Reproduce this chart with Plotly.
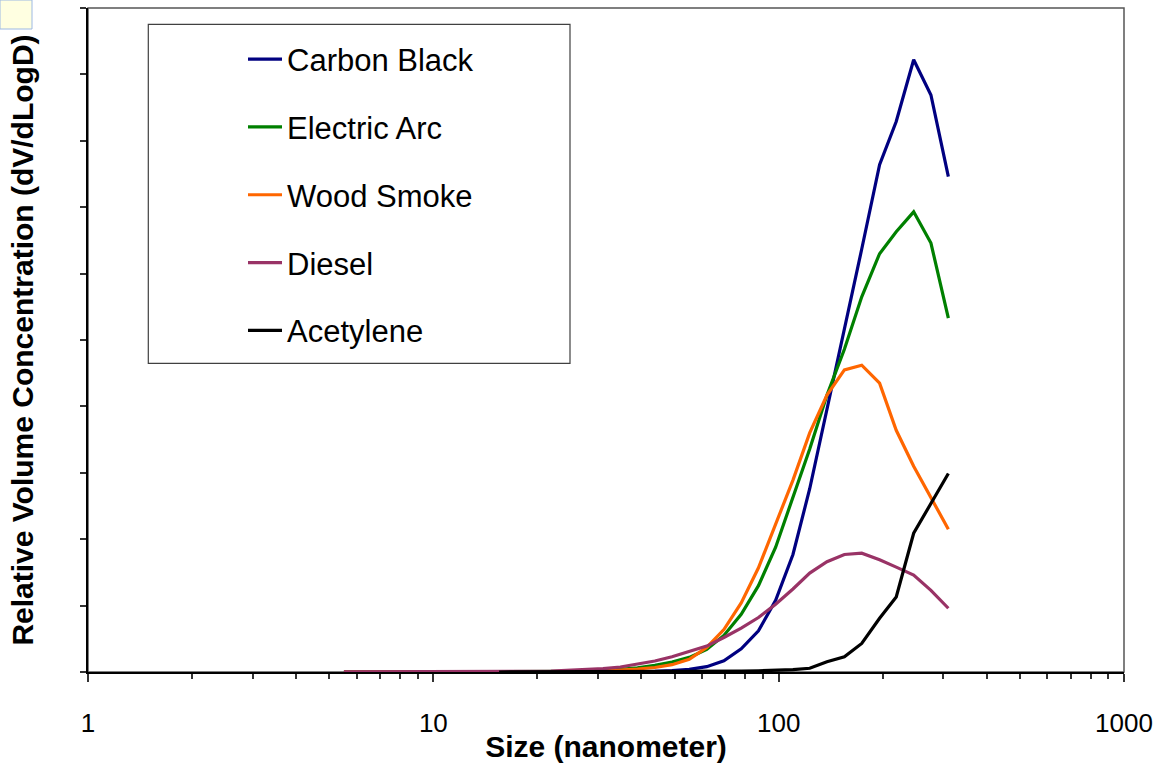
import plotly.graph_objects as go

# Particle size bins (nm)
SIZE_NM = [5.51, 6.19, 6.94, 7.79, 8.74, 9.80, 11.0, 12.3, 13.9, 15.5, 17.4, 19.6,
           21.9, 24.6, 27.6, 31.0, 34.8, 39.0, 43.8, 49.1, 55.1, 61.9, 69.4, 77.9,
           87.4, 98.0, 110, 123, 138, 155, 174, 196, 219, 246, 276, 310]

CARBON_BLACK = [0, 0, 0, 0, 0, 0, 0, 0, 0, 0, 0, 0,
                0, 0, 0, 0, 0, 0.005, 0.01, 0.02, 0.04, 0.08, 0.17, 0.35,
                0.62, 1.08, 1.77, 2.76, 3.95, 5.15, 6.37, 7.64, 8.29, 9.22, 8.69, 7.46]

ELECTRIC_ARC = [0, 0, 0, 0, 0, 0, 0, 0, 0, 0, 0, 0,
                0.005, 0.01, 0.015, 0.025, 0.04, 0.063, 0.10, 0.15, 0.22, 0.34, 0.55, 0.87,
                1.30, 1.88, 2.62, 3.36, 4.17, 4.86, 5.65, 6.30, 6.63, 6.93, 6.46, 5.33]

WOOD_SMOKE = [0, 0, 0, 0, 0, 0, 0, 0, 0, 0, 0, 0,
              0, 0.004, 0.008, 0.015, 0.027, 0.045, 0.068, 0.11, 0.19, 0.37, 0.64, 1.04,
              1.57, 2.22, 2.89, 3.60, 4.17, 4.55, 4.62, 4.35, 3.64, 3.10, 2.63, 2.15]

DIESEL = [0.002, 0.002, 0.002, 0.003, 0.003, 0.004, 0.004, 0.005, 0.006, 0.007, 0.008, 0.01,
          0.015, 0.025, 0.035, 0.05, 0.075, 0.116, 0.165, 0.23, 0.31, 0.39, 0.52, 0.66,
          0.82, 1.02, 1.25, 1.49, 1.66, 1.77, 1.79, 1.69, 1.58, 1.46, 1.23, 0.96]

ACETYLENE = [None, None, None, None, None, None, None, None, None, 0, 0, 0,
             0, 0, 0, 0, 0, 0, 0, 0, 0.003, 0.005, 0.008, 0.012,
             0.018, 0.025, 0.035, 0.056, 0.155, 0.23, 0.43, 0.81, 1.13, 2.09, 2.55, 2.99]

SERIES = [
    ("Carbon Black", CARBON_BLACK, "#000080"),
    ("Electric Arc", ELECTRIC_ARC, "#008000"),
    ("Wood Smoke", WOOD_SMOKE, "#FF6600"),
    ("Diesel", DIESEL, "#993366"),
    ("Acetylene", ACETYLENE, "#000000"),
]

X_TICKS = [1, 10, 100, 1000]
X_TICK_TEXT = ["1", "10", "100", "1000"]
X_MINOR = [m * d for d in (1, 10, 100) for m in range(2, 10)]

FONT = "Liberation Sans, Arial, sans-serif"

fig = go.Figure()
for name, vals, color in SERIES:
    fig.add_trace(go.Scatter(
        x=SIZE_NM, y=vals, name=name, mode="lines",
        line=dict(color=color, width=3.2),
        legendgroup=name,
    ))

W, H = 1162, 763
L, R, T, B = 88, 38, 8, 91
PW, PH = W - L - R, H - T - B


def px_x(p):
    return (p - L) / PW


def px_y(p):
    return (H - B - p) / PH


fig.update_layout(
    template="none",
    width=W, height=H,
    margin=dict(l=L, r=R, t=T, b=B, pad=0),
    paper_bgcolor="white", plot_bgcolor="white",
    font=dict(family=FONT, color="black"),
    showlegend=True,
    legend=dict(
        x=px_x(243), y=px_y(32.5), xanchor="left", yanchor="top",
        bgcolor="rgba(0,0,0,0)", borderwidth=0,
        font=dict(size=31, color="black", family=FONT),
        itemwidth=34, tracegroupgap=24.5, traceorder="grouped",
    ),
    xaxis=dict(
        type="log", range=[0, 3],
        tickmode="array", tickvals=X_TICKS, ticktext=X_TICK_TEXT,
        ticks="outside", ticklen=8, tickwidth=1.5, tickcolor="#333333",
        tickfont=dict(size=26, color="black"),
        ticklabelstandoff=19,
        minor=dict(tickmode="array", tickvals=X_MINOR, ticks="outside",
                   ticklen=5, tickwidth=1.5, tickcolor="#333333", showgrid=False),
        showline=True, linecolor="black", linewidth=2,
        showgrid=False, zeroline=False, layer="below traces",
        automargin=False,
        title=dict(text="<b>Size (nanometer)</b>", font=dict(size=30, color="black"),
                   standoff=1),
    ),
    yaxis=dict(
        range=[0, 10], tick0=0, dtick=1,
        ticks="outside", ticklen=6, tickwidth=1.5, tickcolor="#333333",
        showticklabels=False,
        showline=True, linecolor="black", linewidth=2,
        showgrid=False, zeroline=False, layer="below traces",
        automargin=False,
        title=dict(text="<b>Relative Volume Concentration (dV/dLogD)</b>",
                   font=dict(size=30, color="black"), standoff=38),
    ),
    shapes=[
        # plot frame (top / right edges)
        dict(type="rect", xref="paper", yref="paper", x0=0, x1=1, y0=0, y1=1,
             line=dict(color="#555555", width=1.5), layer="below"),
        # legend box
        dict(type="rect", xref="paper", yref="paper",
             x0=px_x(148.3), x1=px_x(570), y0=px_y(363.3), y1=px_y(24.3),
             line=dict(color="#404040", width=1.2), fillcolor="white", layer="below"),
        # small yellow note box in the corner
        dict(type="rect", xref="paper", yref="paper",
             x0=px_x(0), x1=px_x(32), y0=px_y(29), y1=px_y(0),
             line=dict(color="#9DB9E3", width=1), fillcolor="#FFFFE1", layer="above"),
    ],
)

fig.write_html("out.html", config={"displayModeBar": False},
               post_script="document.body.style.margin='0';")
